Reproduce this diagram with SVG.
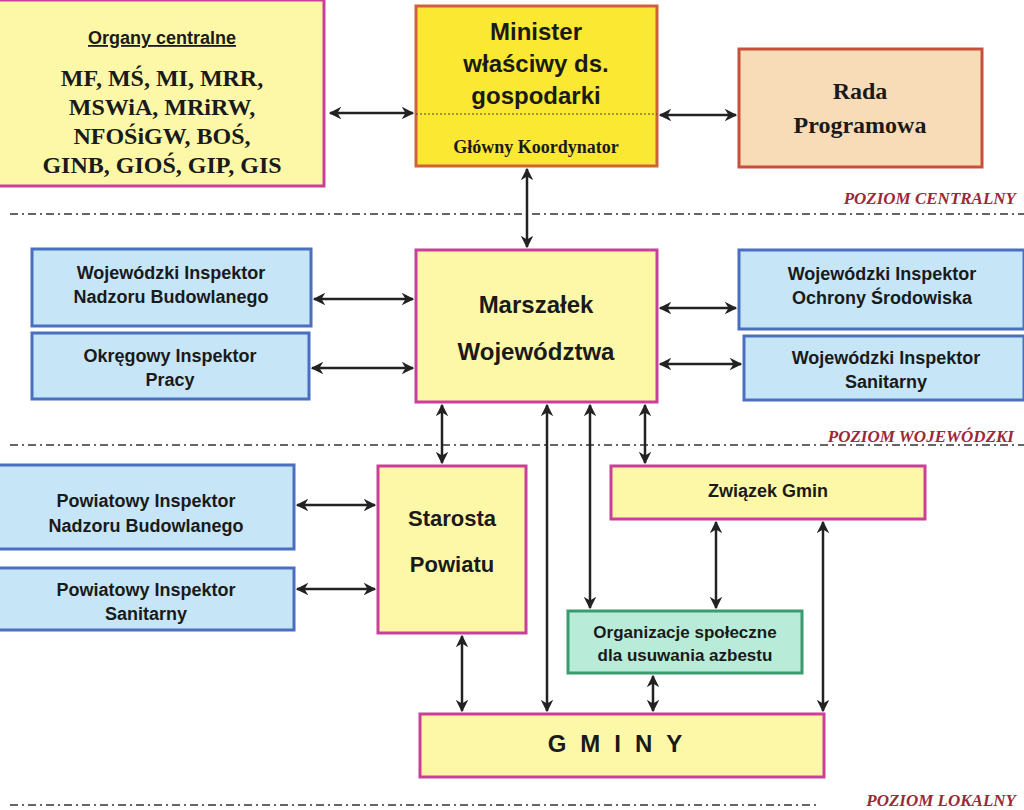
<svg xmlns="http://www.w3.org/2000/svg" width="1024" height="810" viewBox="0 0 1024 810">
<defs>
<marker id="a" viewBox="0 0 10 10" refX="9" refY="5" markerWidth="5" markerHeight="5" orient="auto-start-reverse"><path d="M0,0 L10,5 L0,10 L3,5 Z" fill="#222"/></marker>
<style>
.y{fill:#fdf8a8;stroke:#c8409a;stroke-width:3}
.b{fill:#c6e6f8;stroke:#4a6fc0;stroke-width:3}
.t{font-family:"Liberation Sans",Arial,sans-serif;font-weight:bold;fill:#1a1a1a;text-anchor:middle}
.s{font-family:"Liberation Serif",serif;font-weight:bold;fill:#1a1a1a;text-anchor:middle}
.lv{font-family:"Liberation Serif",serif;font-weight:bold;font-style:italic;fill:#9a2a3a;font-size:17px;text-anchor:end}
.c line{stroke:#222;stroke-width:2.5;marker-start:url(#a);marker-end:url(#a)}
.d{stroke:#333;stroke-width:1.5;stroke-dasharray:8 4 2 4}
</style>
</defs>
<rect width="1024" height="810" fill="#fff"/>
<line class="d" x1="10" y1="214" x2="1024" y2="214"/>
<line class="d" x1="10" y1="445" x2="1024" y2="445"/>
<line class="d" x1="10" y1="805" x2="820" y2="805"/>
<text class="lv" x="1016" y="204">POZIOM  CENTRALNY</text>
<text class="lv" x="1014" y="442">POZIOM  WOJEWÓDZKI</text>
<text class="lv" x="1016" y="806">POZIOM  LOKALNY</text>
<g id="organy"><rect class="y" x="-2" y="0" width="326" height="186"/>
<text class="t" x="162" y="44" font-size="18" text-decoration="underline">Organy centralne</text>
<text class="s" x="162" y="86" font-size="24">MF, MŚ, MI, MRR,</text>
<text class="s" x="162" y="115" font-size="24">MSWiA, MRiRW,</text>
<text class="s" x="162" y="144" font-size="24">NFOŚiGW, BOŚ,</text>
<text class="s" x="162" y="173" font-size="24">GINB, GIOŚ, GIP, GIS</text></g>
<g id="minister"><rect x="416" y="6" width="241" height="160" fill="#fbe832" stroke="#d0603a" stroke-width="3"/>
<line x1="416" y1="114" x2="657" y2="114" stroke="#444" stroke-width="1.2" stroke-dasharray="2 2"/>
<text class="t" x="536" y="40" font-size="24">Minister</text>
<text class="t" x="536" y="72" font-size="24">właściwy ds.</text>
<text class="t" x="536" y="104" font-size="24">gospodarki</text>
<text class="s" x="536" y="153" font-size="18">Główny Koordynator</text></g>
<g id="rada"><rect x="739" y="49" width="243" height="118" fill="#f8dcb8" stroke="#c8503a" stroke-width="3"/>
<text class="s" x="860" y="99" font-size="24">Rada</text>
<text class="s" x="860" y="133" font-size="24">Programowa</text></g>
<g id="marszalek"><rect class="y" x="416" y="250" width="241" height="152"/>
<text class="t" x="536" y="313" font-size="24">Marszałek</text>
<text class="t" x="536" y="360" font-size="24">Województwa</text></g>
<g id="wnb"><rect class="b" x="32" y="249" width="279" height="77"/>
<text class="t" x="171" y="279" font-size="18">Wojewódzki Inspektor</text>
<text class="t" x="171" y="303" font-size="18">Nadzoru Budowlanego</text></g>
<g id="oip"><rect class="b" x="32" y="333" width="277" height="66"/>
<text class="t" x="170" y="362" font-size="18">Okręgowy Inspektor</text>
<text class="t" x="170" y="386" font-size="18">Pracy</text></g>
<g id="wios"><rect class="b" x="739" y="250" width="285" height="79"/>
<text class="t" x="882" y="280" font-size="18">Wojewódzki Inspektor</text>
<text class="t" x="882" y="304" font-size="18">Ochrony Środowiska</text></g>
<g id="wis"><rect class="b" x="744" y="336" width="280" height="64"/>
<text class="t" x="886" y="364" font-size="18">Wojewódzki Inspektor</text>
<text class="t" x="886" y="388" font-size="18">Sanitarny</text></g>
<g id="pnb"><rect class="b" x="-2" y="465" width="296" height="84"/>
<text class="t" x="146" y="507" font-size="18">Powiatowy Inspektor</text>
<text class="t" x="146" y="532" font-size="18">Nadzoru Budowlanego</text></g>
<g id="pis"><rect class="b" x="-2" y="568" width="296" height="62"/>
<text class="t" x="146" y="596" font-size="18">Powiatowy Inspektor</text>
<text class="t" x="146" y="620" font-size="18">Sanitarny</text></g>
<g id="starosta"><rect class="y" x="378" y="466" width="148" height="167"/>
<text class="t" x="452" y="526" font-size="22">Starosta</text>
<text class="t" x="452" y="572" font-size="22">Powiatu</text></g>
<g id="zwiazek"><rect class="y" x="611" y="466" width="314" height="53"/>
<text class="t" x="768" y="497" font-size="18">Związek Gmin</text></g>
<g id="org"><rect x="568" y="611" width="234" height="62" fill="#b8ecd8" stroke="#3a9a70" stroke-width="3"/>
<text class="t" x="685" y="638" font-size="17">Organizacje społeczne</text>
<text class="t" x="685" y="661" font-size="17">dla usuwania azbestu</text></g>
<g id="gminy"><rect class="y" x="420" y="714" width="404" height="63"/>
<text class="t" x="622" y="752" font-size="24" letter-spacing="14">GMINY</text></g>
<g class="c" id="connectors">
<line x1="330" y1="113" x2="413" y2="113"/>
<line x1="660" y1="115" x2="736" y2="115"/>
<line x1="527" y1="169" x2="527" y2="247"/>
<line x1="314" y1="299" x2="413" y2="299"/>
<line x1="312" y1="368" x2="413" y2="368"/>
<line x1="660" y1="308" x2="736" y2="308"/>
<line x1="660" y1="364" x2="741" y2="364"/>
<line x1="442" y1="405" x2="442" y2="463"/>
<line x1="547" y1="405" x2="547" y2="711"/>
<line x1="590" y1="405" x2="590" y2="608"/>
<line x1="645" y1="405" x2="645" y2="463"/>
<line x1="297" y1="505" x2="375" y2="505"/>
<line x1="297" y1="589" x2="375" y2="589"/>
<line x1="462" y1="636" x2="462" y2="711"/>
<line x1="716" y1="522" x2="716" y2="608"/>
<line x1="653" y1="676" x2="653" y2="711"/>
<line x1="823" y1="522" x2="823" y2="711"/>
</g>
</svg>
